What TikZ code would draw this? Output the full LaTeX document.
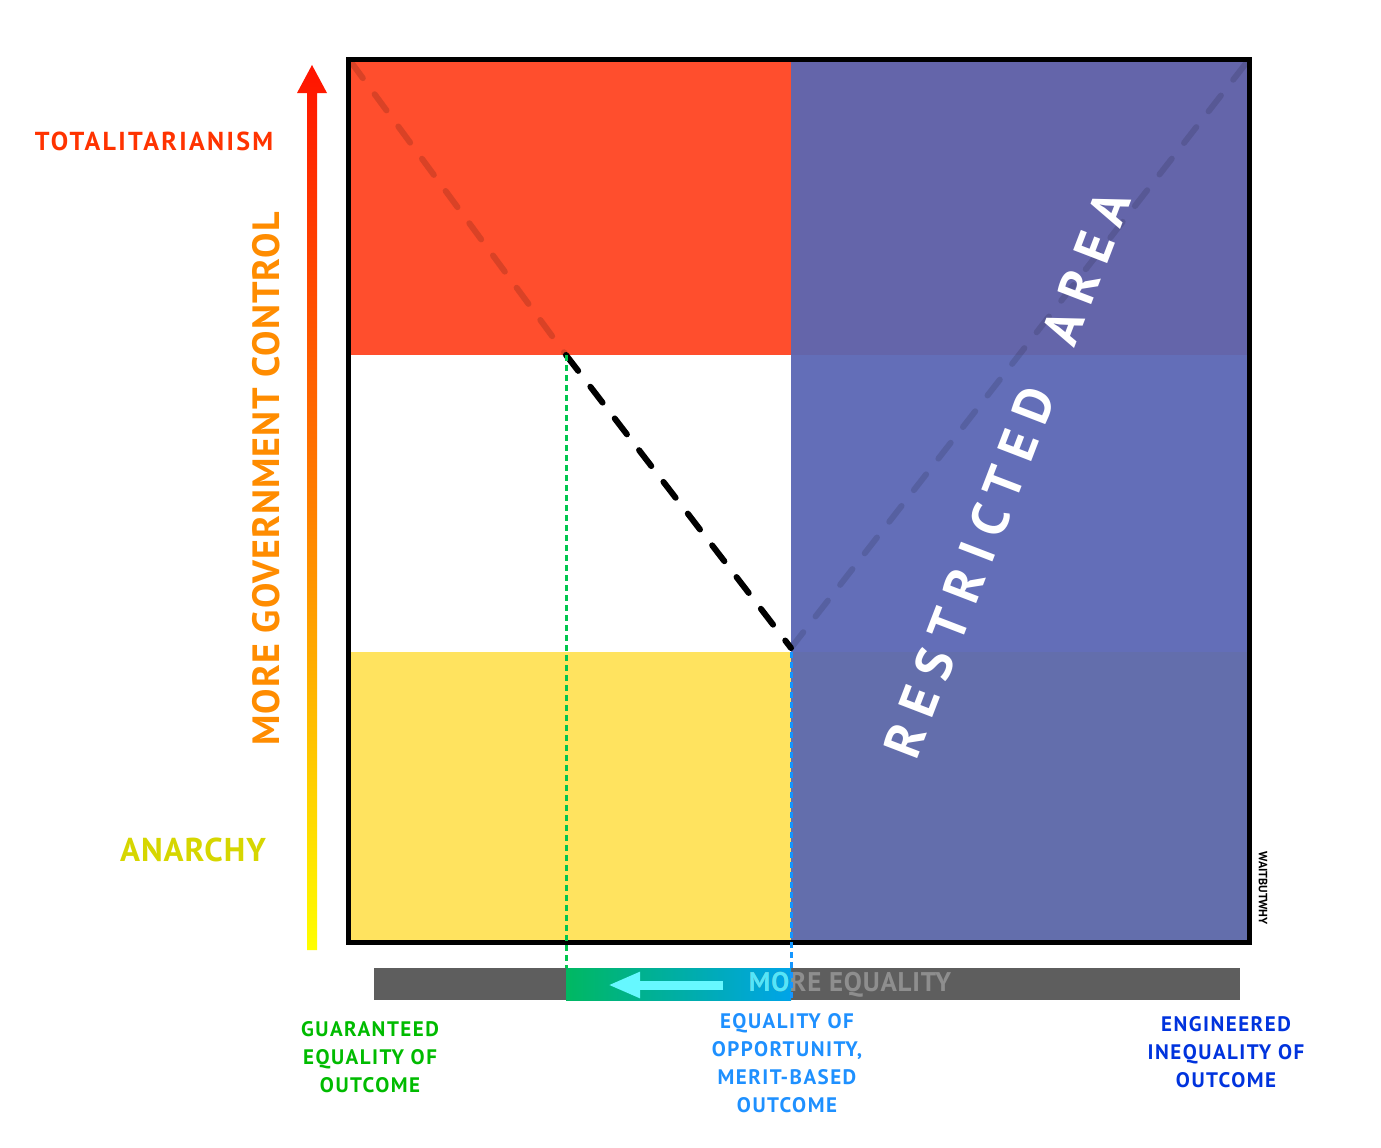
\documentclass[tikz,border=0pt]{standalone}
\usepackage{fontspec}
\setmainfont{PT Sans}
\newfontfamily\wbwfont{PT Sans}
\usetikzlibrary{arrows.meta, positioning, calc}

\definecolor{totred}{HTML}{FF4E2D}
\definecolor{anyellow}{HTML}{FFE35F}
\definecolor{restop}{HTML}{6465AA}
\definecolor{resmid}{HTML}{636EB8}
\definecolor{resbot}{HTML}{636EAC}
\definecolor{bargray}{HTML}{5E5E5E}
\definecolor{txtgray}{HTML}{8E8E8E}
\definecolor{eqgreen}{HTML}{00B862}
\definecolor{eqblue}{HTML}{00A4E8}
\definecolor{eqcyan}{HTML}{66F8FF}
\definecolor{guideblue}{HTML}{1496FF}

% font with letter spacing: size, spacing
\newcommand{\wbw}[2]{\wbwfont\bfseries\addfontfeature{LetterSpace=#2}\fontsize{#1}{1.33\dimexpr #1pt\relax}\selectfont}

\begin{document}
\begin{tikzpicture}[
  x=1pt, y=-1pt,
  lbl/.style   = {font=\wbw{21}{7}, align=center, inner sep=0pt},
  side/.style  = {inner sep=0pt},
  ridge/.style = {line width=6pt, dash pattern=on 20pt off 20pt, line cap=round},
  guide/.style = {line width=3pt, dash pattern=on 6pt off 4pt},
]
  \useasboundingbox (0,0) rectangle (1381,1148);

  % corners of the chart and the points of the ridge line
  \coordinate (cnw)  at (351,62);
  \coordinate (cse)  at (1247,940);
  \coordinate (knee) at (566,355);
  \coordinate (base) at (791,648);
  \coordinate (cne)  at (1247,62);

  % the six regions
  \fill[totred]   (351,62)  rectangle (791,355);
  \fill[anyellow] (351,652) rectangle (791,940);
  \fill[restop]   (791,62)  rectangle (1247,355);
  \fill[resmid]   (791,355) rectangle (1247,652);
  \fill[resbot]   (791,652) rectangle (1247,940);

  % ridge line
  \draw[ridge, black, draw opacity=0.15] (cnw) -- (knee);
  \draw[ridge, black] (knee) -- (base);
  \draw[ridge, black, draw opacity=0.12] (base) -- (cne);

  \node[font=\wbw{52}{24}, text=white, rotate=69, inner sep=0pt]
    (restr) at (1007,474) {RESTRICTED\ \ AREA};

  \draw[line width=5pt] (cnw) ++(-2.5,-2.5) rectangle ($(cse)+(2.5,2.5)$);
  \node[font=\wbw{12}{0}, rotate=-90, inner sep=0pt]
    (sig) at (1263,888) {WAITBUTWHY};

  % equality bar
  \coordinate (barl) at (374,968);
  \coordinate (barr) at (1240,1000);
  \fill[bargray] (barl) rectangle (barr);
  \shade[left color=eqgreen, right color=eqblue] (566,968) rectangle (791,1000);
  \node[side, font=\wbw{27}{3}, text=txtgray] (moreq) at (850,985) {MORE EQUALITY};
  \begin{scope}
    \clip (566,968) rectangle (791,1000);
    \node[side, font=\wbw{27}{3}, text=eqcyan!80!eqblue] (moreqc) at (850,985) {MORE EQUALITY};
  \end{scope}
  \coordinate (arrs) at (723,985);
  \coordinate (arre) at (608,985);
  \draw[eqcyan, line width=9pt, -{Triangle[length=32pt, width=24pt]}] (arrs) -- (arre);

  % dashed guides
  \draw[guide, eqgreen!80!green] (knee) -- (566,968);
  \draw[guide, guideblue] (791,652) -- (791,1000);

  % vertical axis arrow
  \shade[bottom color=yellow, top color=red!85!orange, middle color=orange]
    (307,950) -- (307,93) -- (297,93) -- (312,65) -- (327,93) -- (317,93) -- (317,950) -- cycle;
  \node[side, font=\wbw{38}{3}, text=orange!90!yellow, rotate=90]
    (govc) at (266,479) {MORE GOVERNMENT CONTROL};
  \node[side, font=\wbw{26}{9}, text={rgb,255:red,255;green,51;blue,0}] (tot) at (154,141) {TOTALITARIANISM};
  \node[side, font=\wbw{33}{3}, text={rgb,255:red,214;green,214;blue,0}]
    (anar) at (193,850) {ANARCHY};

  % outcome labels
  \node[lbl, text={rgb,255:red,0;green,187;blue,0}] (guar) at (370,1057)
    {GUARANTEED\\EQUALITY OF\\OUTCOME};
  \node[lbl, text={rgb,255:red,30;green,144;blue,255}] (merit) at (787,1063)
    {EQUALITY OF\\OPPORTUNITY,\\MERIT-BASED\\OUTCOME};
  \node[lbl, text={rgb,255:red,0;green,51;blue,221}] (engi) at (1226,1052)
    {ENGINEERED\\INEQUALITY OF\\OUTCOME};
\end{tikzpicture}
\end{document}
